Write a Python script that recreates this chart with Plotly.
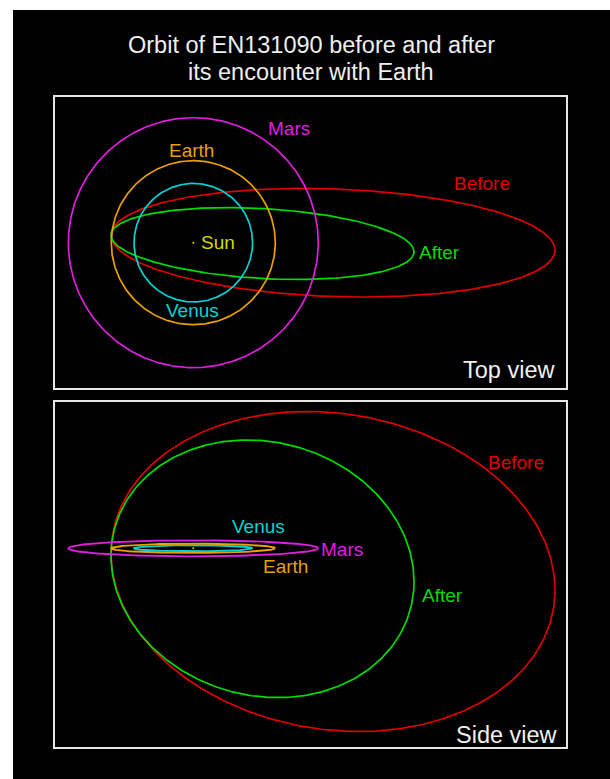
import numpy as np
import plotly.graph_objects as go

# ---------------- data (AU, Sun at origin) ----------------
planets = ["Venus", "Earth", "Mars"]
planet_radius_au = [0.723, 1.000, 1.524]
planet_side_halfheight_au = [0.037, 0.057, 0.098]
planet_colors = ["#00d4d4", "#eb9f00", "#e01ee0"]

orbits = ["Before", "After"]
orbit_colors = ["#e00000", "#00dc00"]
# top view: projected ellipse = centre + U cos(t) + V sin(t)
top_cx = [1.704, 0.844]
top_cy = [0.000, -0.010]
top_ux = [2.707, 1.848]
top_uy = [-0.090, -0.101]
top_vy = [0.656, 0.427]
# side view
side_cx = [1.704, 0.844]
side_cz = [-0.283, -0.250]
side_ux = [2.707, 1.848]
side_uz = [-0.226, -0.157]
side_vz = [1.938, 1.563]

title_lines = ["Orbit of EN131090 before and after", "its encounter with Earth"]
view_names = ["Top view", "Side view"]

# ---------------- layout helpers ----------------
W, H = 610, 779
SCALE = 82.0  # px per AU


def px_x(p):
    return p / W


def px_y(p):
    return 1 - p / H


theta = np.linspace(0, 2 * np.pi, 361)


def ellipse(cx, cy, ux, uy, vx, vy):
    return (cx + ux * np.cos(theta) + vx * np.sin(theta),
            cy + uy * np.cos(theta) + vy * np.sin(theta))


fig = go.Figure()

# top view traces
for i, name in enumerate(orbits):
    x, y = ellipse(top_cx[i], top_cy[i], top_ux[i], top_uy[i], 0, top_vy[i])
    fig.add_trace(go.Scatter(x=x, y=y, mode="lines", name=name,
                             line=dict(color=orbit_colors[i], width=1.7),
                             xaxis="x", yaxis="y", hoverinfo="skip"))
for i, name in enumerate(planets):
    r = planet_radius_au[i]
    x, y = ellipse(0, 0, r, 0, 0, r)
    fig.add_trace(go.Scatter(x=x, y=y, mode="lines", name=name,
                             line=dict(color=planet_colors[i], width=1.7),
                             xaxis="x", yaxis="y", hoverinfo="skip"))
fig.add_trace(go.Scatter(x=[0], y=[0], mode="markers", name="Sun",
                         marker=dict(color="#d8d800", size=2),
                         xaxis="x", yaxis="y", hoverinfo="skip"))

# side view traces
for i, name in enumerate(orbits):
    x, y = ellipse(side_cx[i], side_cz[i], side_ux[i], side_uz[i], 0, side_vz[i])
    fig.add_trace(go.Scatter(x=x, y=y, mode="lines", name=name,
                             line=dict(color=orbit_colors[i], width=1.7),
                             xaxis="x2", yaxis="y2", hoverinfo="skip"))
for i, name in enumerate(planets):
    r = planet_radius_au[i]
    h = planet_side_halfheight_au[i]
    x, y = ellipse(0, 0, r, 0, 0, h)
    fig.add_trace(go.Scatter(x=x, y=y, mode="lines", name=name,
                             line=dict(color=planet_colors[i], width=1.9),
                             xaxis="x2", yaxis="y2", hoverinfo="skip"))
fig.add_trace(go.Scatter(x=[0], y=[0], mode="markers", name="Sun",
                         marker=dict(color="#d8d800", size=2),
                         xaxis="x2", yaxis="y2", hoverinfo="skip"))

# ---------------- axes (panel boxes) ----------------
BOX = "#e6e6e6"
sun_top = (193.3, 242.7)
sun_side = (193.3, 548.3)
left_px, right_px = 55, 566
top_box = (97, 388.3)
side_box = (402.3, 746.7)

axis_common = dict(showline=True, mirror=True, linecolor=BOX, linewidth=2,
                   showgrid=False, zeroline=False, showticklabels=False,
                   ticks="", fixedrange=True)

xr = [(left_px - sun_top[0]) / SCALE, (right_px - sun_top[0]) / SCALE]
fig.update_layout(
    xaxis=dict(domain=[px_x(left_px), px_x(right_px)], range=xr,
               anchor="y", **axis_common),
    yaxis=dict(domain=[px_y(top_box[1]), px_y(top_box[0])],
               range=[(sun_top[1] - top_box[1]) / SCALE, (sun_top[1] - top_box[0]) / SCALE],
               anchor="x", **axis_common),
    xaxis2=dict(domain=[px_x(left_px), px_x(right_px)], range=xr,
                anchor="y2", **axis_common),
    yaxis2=dict(domain=[px_y(side_box[1]), px_y(side_box[0])],
                range=[(sun_side[1] - side_box[1]) / SCALE, (sun_side[1] - side_box[0]) / SCALE],
                anchor="x2", **axis_common),
)

# ---------------- labels ----------------
FONT = "Liberation Sans, Arial, sans-serif"
LABEL_SIZE = 19
VIEW_SIZE = 23.5
ann = []


def label(text, x, y, color, size=LABEL_SIZE, ref="", xanchor="center"):
    ann.append(dict(text=text, x=x, y=y, xref="x" + ref, yref="y" + ref,
                    showarrow=False, xanchor=xanchor, yanchor="middle",
                    font=dict(family=FONT, size=size, color=color)))


# top view labels
label("Mars", 1.173, 1.395, planet_colors[2])
label("Earth", -0.022, 1.130, planet_colors[1])
label("Sun", 0.299, 0.000, "#d8d800")
label("Venus", -0.004, -0.821, planet_colors[0])
label("Before", 3.522, 0.724, orbit_colors[0])
label("After", 3.002, -0.122, orbit_colors[1])
label(view_names[0], 4.435, -1.552, "#f0f0f0", size=VIEW_SIZE, xanchor="right")

# side view labels
label("Venus", 0.795, 0.263, planet_colors[0], ref="2")
label("Mars", 1.813, -0.012, planet_colors[2], ref="2")
label("Earth", 1.130, -0.216, planet_colors[1], ref="2")
label("After", 3.033, -0.570, orbit_colors[1], ref="2")
label("Before", 3.935, 1.049, orbit_colors[0], ref="2")
label(view_names[1], 4.466, -2.277, "#f0f0f0", size=VIEW_SIZE, ref="2", xanchor="right")

for line, ypx in zip(title_lines, [44.5, 72.0]):
    ann.append(dict(text=line, x=px_x(311), y=px_y(ypx),
                    xref="paper", yref="paper", showarrow=False,
                    xanchor="center", yanchor="middle",
                    font=dict(family=FONT, size=23.5, color="#eeeeee")))

fig.update_layout(
    width=W, height=H,
    margin=dict(l=0, r=0, t=0, b=0),
    paper_bgcolor="white",
    plot_bgcolor="black",
    showlegend=False,
    hovermode=False,
    annotations=ann,
    shapes=[dict(type="rect", xref="paper", yref="paper",
                 x0=px_x(13), x1=1.0, y0=0.0, y1=px_y(10),
                 fillcolor="black", line=dict(width=0), layer="below")],
)

fig.write_html("out.html", config={"displayModeBar": False},
               post_script="document.body.style.margin='0px';")
